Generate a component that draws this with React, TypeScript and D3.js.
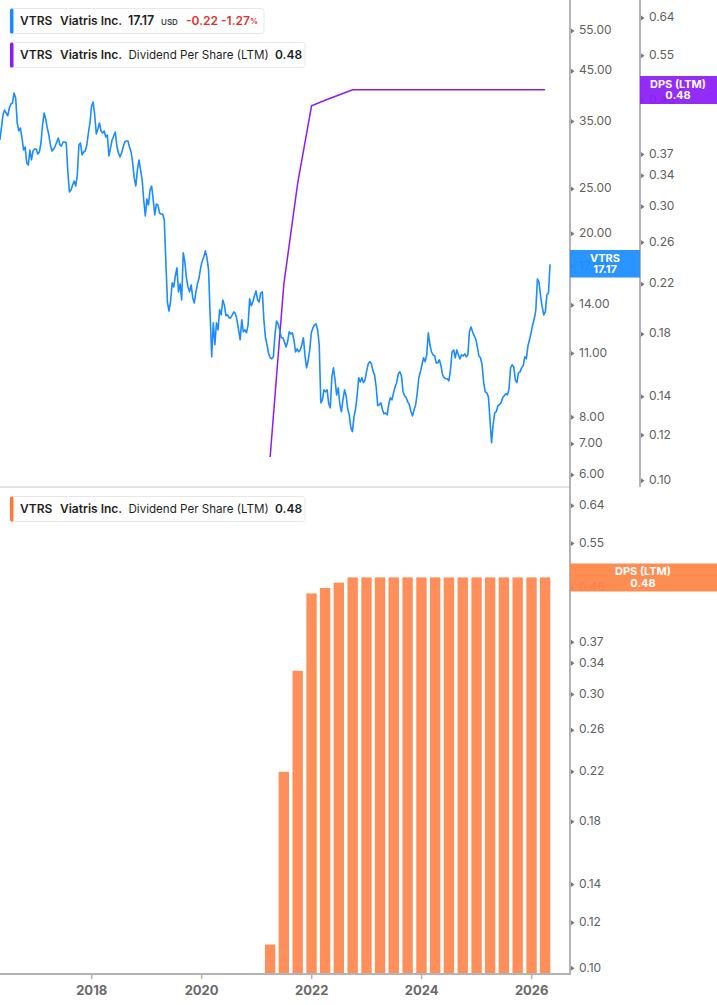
import React from 'react';
import * as d3 from 'd3';

// price series, sampled every 10.5 days (252 h) from the start date
const PRICE_START = '2016-05-01';
const PRICE_STEP_HOURS = 252;
const priceValues = [
  31.93, 33.9, 36.17, 37.08, 36.53, 36.0, 37.45, 38.21, 38.4, 40.37,
  39.37, 34.76, 33.4, 33.9, 32.25, 30.37, 30.83, 28.47, 28.18, 30.37,
  28.9, 30.22, 30.52, 30.52, 29.78, 30.07, 31.45, 34.41, 36.53, 35.46,
  33.9, 32.73, 31.14, 30.22, 30.52, 30.98, 31.61, 32.25, 31.14, 30.98,
  31.61, 31.61, 31.45, 27.21, 24.64, 24.88, 25.51, 26.02, 25.38, 26.81,
  31.14, 31.45, 29.63, 30.07, 30.22, 31.14, 33.06, 34.76, 37.8, 38.6,
  36.17, 32.9, 33.73, 34.76, 33.39, 33.06, 33.39, 32.41, 32.73, 29.49,
  30.67, 31.93, 32.57, 33.22, 30.98, 29.92, 29.34, 29.92, 30.83, 31.61,
  31.77, 31.77, 30.83, 30.07, 28.47, 26.42, 25.38, 27.49, 28.9, 27.49,
  26.15, 23.67, 21.85, 23.79, 23.09, 24.88, 25.38, 23.67, 21.96, 23.2,
  23.09, 22.18, 22.07, 22.07, 21.42, 17.38, 14.2, 13.6, 14.3, 15.65,
  15.34, 16.2, 16.87, 14.96, 15.57, 14.37, 18.18, 17.38, 16.04, 15.34,
  14.96, 15.49, 14.52, 14.16, 14.96, 15.57, 16.04, 16.87, 17.46, 17.81,
  18.36, 17.72, 16.7, 13.34, 10.82, 12.82, 11.49, 12.82, 12.38, 13.68,
  13.34, 14.37, 14.02, 13.28, 13.34, 13.14, 13.14, 13.34, 13.54, 13.41,
  13.01, 12.38, 11.78, 13.01, 12.26, 12.38, 12.2, 12.69, 14.45, 13.95,
  14.23, 14.66, 15.03, 14.37, 14.23, 14.89, 14.96, 13.01, 11.9, 11.49,
  10.98, 10.77, 10.71, 10.82, 12.07, 12.94, 12.75, 12.38, 11.9, 11.9,
  11.66, 11.37, 11.66, 12.26, 12.13, 12.2, 11.78, 11.09, 11.26, 11.09,
  11.2, 11.49, 11.9, 10.87, 10.24, 10.61, 11.2, 12.2, 12.5, 12.69,
  12.75, 12.38, 11.49, 8.6, 8.73, 9.18, 9.09, 9.18, 8.56, 8.39,
  9.79, 10.24, 9.65, 8.95, 9.27, 8.56, 8.23, 8.73, 9.18, 8.91,
  8.35, 8.1, 7.6, 7.45, 8.02, 8.35, 8.95, 9.75, 9.55, 9.75,
  9.51, 9.65, 10.09, 10.45, 10.56, 10.45, 10.09, 9.89, 9.32, 8.48,
  8.52, 8.6, 8.31, 8.14, 8.18, 8.1, 8.56, 8.82, 8.73, 9.04,
  9.32, 9.51, 9.94, 10.04, 9.84, 9.09, 8.91, 8.82, 8.64, 8.52,
  8.23, 8.06, 8.31, 8.52, 9.04, 9.75, 10.04, 10.4, 10.77, 10.56,
  10.93, 12.2, 11.49, 11.09, 10.93, 10.87, 10.5, 10.5, 10.66, 10.35,
  9.89, 9.75, 9.7, 9.7, 9.6, 10.14, 11.09, 11.2, 10.77, 11.2,
  10.93, 10.71, 10.93, 10.87, 10.98, 10.82, 10.93, 12.26, 12.56, 12.26,
  12.01, 11.84, 11.37, 10.87, 10.77, 10.4, 9.51, 9.09, 9.04, 8.86,
  7.9, 7.05, 7.71, 8.18, 8.23, 8.48, 8.52, 8.6, 8.82, 8.91,
  9.0, 8.95, 9.18, 10.24, 10.4, 10.3, 9.65, 9.51, 9.99, 10.04,
  10.24, 10.35, 10.82, 10.71, 11.43, 11.78, 12.2, 12.69, 13.08, 13.68,
  15.96, 15.72, 14.66, 13.88, 13.34, 13.54, 14.74, 14.89, 17.17,
];

const dpsDates = [
  '2021-03-31', '2021-06-30', '2021-09-30', '2021-12-31',
  '2022-03-31', '2022-06-30', '2022-09-30', '2022-12-31',
  '2023-03-31', '2023-06-30', '2023-09-30', '2023-12-31',
  '2024-03-31', '2024-06-30', '2024-09-30', '2024-12-31',
  '2025-03-31', '2025-06-30', '2025-09-30', '2025-12-31',
  '2026-03-31',
];
const dpsValues = [
  0.11, 0.22, 0.33, 0.45, 0.46, 0.47, 0.48, 0.48, 0.48, 0.48, 0.48,
  0.48, 0.48, 0.48, 0.48, 0.48, 0.48, 0.48, 0.48, 0.48, 0.48,
];

const priceTicks = [55, 45, 35, 25, 20, 17, 14, 11, 8, 7, 6];
const dpsTicks = [0.64, 0.55, 0.46, 0.37, 0.34, 0.3, 0.26, 0.22, 0.18, 0.14, 0.12, 0.1];
const yearTicks = [2018, 2020, 2022, 2024, 2026];

const FONT = 'Inter, "Noto Sans", sans-serif';
const BLUE = '#1a8cff';
const PURPLE = '#8a1cf5';
const ORANGE = '#fe8f5b';
const AXIS = '#b4b4b4';
const TICK_TEXT = '#5f5f5f';

const parse = d3.timeParse('%Y-%m-%d');

export default function App() {
  const W = 717;
  const H = 1005;
  const axisX = 570;
  const dpsAxisX = 640;
  const bottomBase = 974;

  const x = d3
    .scaleTime()
    .domain([new Date(2018, 0, 1), new Date(2026, 0, 1)])
    .range([91.7, 531.7]);

  const yPrice = d3.scaleLog().domain([6, 55]).range([475, 31]);
  const yDpsTop = d3.scaleLog().domain([0.1, 0.64]).range([480.7, 18]);
  const yDpsBot = d3.scaleLog().domain([0.1, 0.64]).range([968.3, 505.7]);

  const start = parse(PRICE_START) as Date;
  const priceData = priceValues.map((v, i) => ({
    date: d3.timeHour.offset(start, i * PRICE_STEP_HOURS),
    value: v,
  }));
  const dpsData = dpsDates.map((d, i) => ({ date: parse(d) as Date, value: dpsValues[i] }));

  const priceLine = d3
    .line<{ date: Date; value: number }>()
    .x((d) => x(d.date))
    .y((d) => yPrice(d.value));
  const dpsLine = d3
    .line<{ date: Date; value: number }>()
    .x((d) => x(d.date))
    .y((d) => yDpsTop(d.value));

  const barW = 10.4;
  const fmt = d3.format('.2f');

  const tri = (ax: number, y: number) => `M${ax},${y - 2.5}L${ax + 3.5},${y}L${ax},${y + 2.5}Z`;

  const legendBox = (y: number, w: number, color: string) => (
    <g>
      <rect x={10} y={y} width={w} height={25} rx={3} fill="#fff" stroke="#e8e8e8" />
      <rect x={10} y={y} width={3.5} height={25} rx={1.5} fill={color} />
    </g>
  );

  const dpsLegend = (y: number, color: string) => (
    <g fontFamily={FONT} fontSize={12} fill="#1f1f1f">
      {legendBox(y, 295, color)}
      <text x={20} y={y + 13} dominantBaseline="middle" fontWeight={600}>VTRS</text>
      <text x={60} y={y + 13} dominantBaseline="middle" fontWeight={600}>Viatris Inc.</text>
      <text x={128.5} y={y + 13} dominantBaseline="middle" fontSize={11.6}>Dividend Per Share (LTM)</text>
      <text x={275} y={y + 13} dominantBaseline="middle" fontWeight={600}>0.48</text>
    </g>
  );

  return (
    <div style={{ position: 'absolute', left: 0, top: 0 }}>
      <svg width={W} height={H} style={{ display: 'block', background: '#fff' }}>
        <defs>
          <clipPath id="topClip">
            <rect x={0} y={0} width={axisX} height={486} />
          </clipPath>
        </defs>

        {/* top pane: price + dps line */}
        <g clipPath="url(#topClip)">
          <path d={dpsLine(dpsData) || ''} fill="none" stroke={PURPLE} strokeWidth={1.5} />
          <path d={priceLine(priceData) || ''} fill="none" stroke={BLUE} strokeWidth={1.6} strokeLinejoin="round" />
        </g>

        {/* pane separator */}
        <line x1={0} x2={axisX} y1={487} y2={487} stroke="#e2e2e2" strokeWidth={2} />

        {/* axis lines */}
        <line x1={axisX} x2={axisX} y1={0} y2={bottomBase} stroke={AXIS} strokeWidth={2} />
        <line x1={dpsAxisX} x2={dpsAxisX} y1={0} y2={487} stroke={AXIS} strokeWidth={2} />
        <line x1={0} x2={axisX + 1} y1={bottomBase} y2={bottomBase} stroke={AXIS} strokeWidth={2} />

        {/* y axes */}
        <g fontFamily={FONT} fontSize={12} fill={TICK_TEXT}>
          {priceTicks.map((t) => (
            <g key={'p' + t}>
              <path d={tri(axisX + 1, yPrice(t))} fill="#777" />
              <text x={579} y={yPrice(t)} dominantBaseline="middle">{fmt(t)}</text>
            </g>
          ))}
          {dpsTicks.map((t) => (
            <g key={'dt' + t}>
              <path d={tri(dpsAxisX + 1, yDpsTop(t))} fill="#777" />
              <text x={649} y={yDpsTop(t)} dominantBaseline="middle">{fmt(t)}</text>
            </g>
          ))}
          {dpsTicks.map((t) => (
            <g key={'db' + t}>
              <path d={tri(axisX + 1, yDpsBot(t))} fill="#777" />
              <text x={579} y={yDpsBot(t)} dominantBaseline="middle">{fmt(t)}</text>
            </g>
          ))}
        </g>

        {/* bottom pane bars */}
        <g>
          {dpsData.map((d, i) => (
            <rect
              key={i}
              x={x(d.date) - barW / 2}
              y={yDpsBot(d.value)}
              width={barW}
              height={bottomBase - 1 - yDpsBot(d.value)}
              fill={ORANGE}
            />
          ))}
        </g>

        {/* x axis */}
        <g fontFamily={FONT} fontSize={13} fontWeight={700} fill="#6a6a6a">
          {yearTicks.map((yr) => {
            const px = x(new Date(yr, 0, 1));
            return (
              <g key={yr}>
                <line x1={px} x2={px} y1={bottomBase} y2={bottomBase + 5} stroke={AXIS} strokeWidth={1.5} />
                <text x={px} y={991} textAnchor="middle" dominantBaseline="middle">{yr}</text>
              </g>
            );
          })}
        </g>

        {/* last value labels */}
        <g fontFamily={FONT} fontSize={11} fontWeight={700} fill="#fff" textAnchor="middle">
          <rect x={axisX} y={250} width={70} height={27.5} fill={BLUE} opacity={0.93} />
          <text x={605} y={258.5} dominantBaseline="middle">VTRS</text>
          <text x={605} y={270} dominantBaseline="middle">17.17</text>

          <rect x={dpsAxisX} y={76} width={77} height={28} fill={PURPLE} opacity={0.93} />
          <text x={678} y={84.5} dominantBaseline="middle">DPS (LTM)</text>
          <text x={678} y={96} dominantBaseline="middle">0.48</text>

          <rect x={axisX} y={563.5} width={147} height={28} fill="#fe8447" opacity={0.93} />
          <text x={643} y={572} dominantBaseline="middle">DPS (LTM)</text>
          <text x={643} y={583.5} dominantBaseline="middle">0.48</text>
        </g>

        {/* legends */}
        <g fontFamily={FONT} fontSize={12} fill="#1f1f1f">
          {legendBox(8.5, 254, BLUE)}
          <text x={20} y={21.5} dominantBaseline="middle" fontWeight={600}>VTRS</text>
          <text x={60} y={21.5} dominantBaseline="middle" fontWeight={600}>Viatris Inc.</text>
          <text x={128} y={21.5} dominantBaseline="middle" fontWeight={600} fontSize={12.5}>17.17</text>
          <text x={161} y={23} dominantBaseline="middle" fontSize={8} fontWeight={600} fill="#444">USD</text>
          <text x={186} y={21.5} dominantBaseline="middle" fontWeight={600} fill="#e03131">-0.22</text>
          <text x={221} y={21.5} dominantBaseline="middle" fontWeight={600} fill="#e03131">
            -1.27<tspan fontSize={8}>%</tspan>
          </text>
        </g>
        {dpsLegend(42.5, PURPLE)}
        {dpsLegend(496.5, '#ff7b35')}
      </svg>
    </div>
  );
}
